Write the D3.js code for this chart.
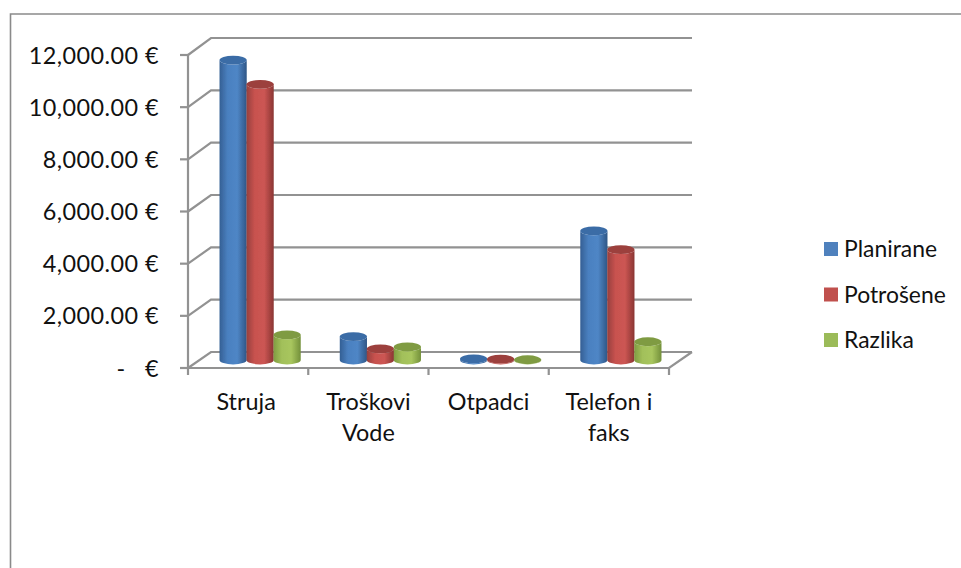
<!DOCTYPE html>
<html><head><meta charset="utf-8">
<script src="https://cdn.jsdelivr.net/npm/d3@7"></script>
<style>html,body{margin:0;background:#fff}svg{display:block}text{font-family:Lato,"Open Sans",sans-serif;fill:#111}</style>
</head><body><svg id="c" width="961" height="568"></svg>
<script>
const categories=[["Struja"],["Troškovi","Vode"],["Otpadci"],["Telefon i","faks"]];
const seriesNames=["Planirane","Potrošene","Razlika"];
const planirane=[11500,900,40,4950];
const potrosene=[10570,430,30,4230];
const razlika=[960,500,10,700];
const yTicks=[0,2000,4000,6000,8000,10000,12000];
const swatch=["#4f81bd","#c0504d","#9bbb59"];
const capFill=["#3b6ca6","#9c3f3c","#7f9b42"];

const svg=d3.select("#c");
const defs=svg.append("defs");
const grads=[["#345f94","#4a80c0","#4f86c6","#2f5686"],["#97403d","#c8524f","#cc5653","#8a3533"],["#7f9c41","#a2c05a","#a8c65e","#73903a"]];
grads.forEach((g,i)=>{const l=defs.append("linearGradient").attr("id","g"+i);
 [0,.3,.65,1].forEach((o,j)=>l.append("stop").attr("offset",o).attr("stop-color",g[j]));});
const soft=defs.append("filter").attr("id","soft");soft.append("feGaussianBlur").attr("stdDeviation",.45);

svg.append("path").attr("d","M10.5,568V14H961").attr("fill","none").attr("stroke","#8a8a8a").attr("stroke-width",1.6);

const yFront=d3.scaleLinear().domain([0,12000]).range([368,55]);
const yBack=d3.scaleLinear().domain([0,12000]).range([352,38]);
const yBar=d3.scaleLinear().domain([0,12000]).range([360,47]);
const x0=d3.scaleBand().domain(d3.range(categories.length)).range([188,669]);
const x1=d3.scaleBand().domain(d3.range(3)).range([0,81]);
const grid=svg.append("g").attr("fill","none").attr("stroke","#929292").attr("stroke-width",2.2).attr("filter","url(#soft)");
yTicks.forEach(t=>{
 grid.append("path").attr("d",`M188,${yFront(t)}L211,${yBack(t)}H692`);
 grid.append("path").attr("d",`M180,${yFront(t)}H188`);
});
grid.append("path").attr("d",`M188,${yFront(12000)}V${yFront(0)}H669L692,${yBack(0)}`);
x0.domain().concat([4]).forEach(i=>{const x=i<4?x0(i):669;
 grid.append("path").attr("d",`M${x},368V375`);});

const fmt=d3.format(",.2f");
const fs=23.4;
svg.append("g").selectAll("text").data(yTicks).join("text")
 .attr("x",159).attr("y",d=>yFront(d)+8.5).attr("text-anchor","end").attr("font-size",fs)
 .style("white-space","pre").style("letter-spacing","0.45px").text(d=>d===0?"-   €":fmt(d)+" €");

const bars=svg.append("g").attr("filter","url(#soft)");
const rx=13.6,ry=4.4;
[planirane,potrosene,razlika].forEach((vals,s)=>{
 vals.forEach((v,c)=>{
  const cx=x0(c)+x0.bandwidth()/2+12+(x1(s)-40.5+13.5);
  const top=yBar(v),base=yBar(0);
  bars.append("path").attr("fill",`url(#g${s})`)
   .attr("d",`M${cx-rx},${top}V${base}A${rx},${ry} 0 0 0 ${cx+rx},${base}V${top}A${rx},${ry} 0 0 1 ${cx-rx},${top}Z`);
  bars.append("ellipse").attr("cx",cx).attr("cy",top).attr("rx",rx).attr("ry",ry).attr("fill",capFill[s]);
 });
});

const tx=svg.append("g").attr("text-anchor","middle").attr("font-size",fs);
categories.forEach((lines,i)=>{
 lines.forEach((t,j)=>tx.append("text").attr("x",x0(i)+x0.bandwidth()/2+(i==0?-2:0)).attr("y",410+j*31).text(t));
});

const legY=d3.scalePoint().domain(seriesNames).range([249,340]);
const leg=svg.append("g");
seriesNames.forEach((n,i)=>{
 leg.append("rect").attr("x",824).attr("y",legY(n)-7).attr("width",14).attr("height",14).attr("fill",swatch[i]);
 leg.append("text").attr("x",844).attr("y",legY(n)+8).attr("font-size",22.9).text(n);
});
</script></body></html>
